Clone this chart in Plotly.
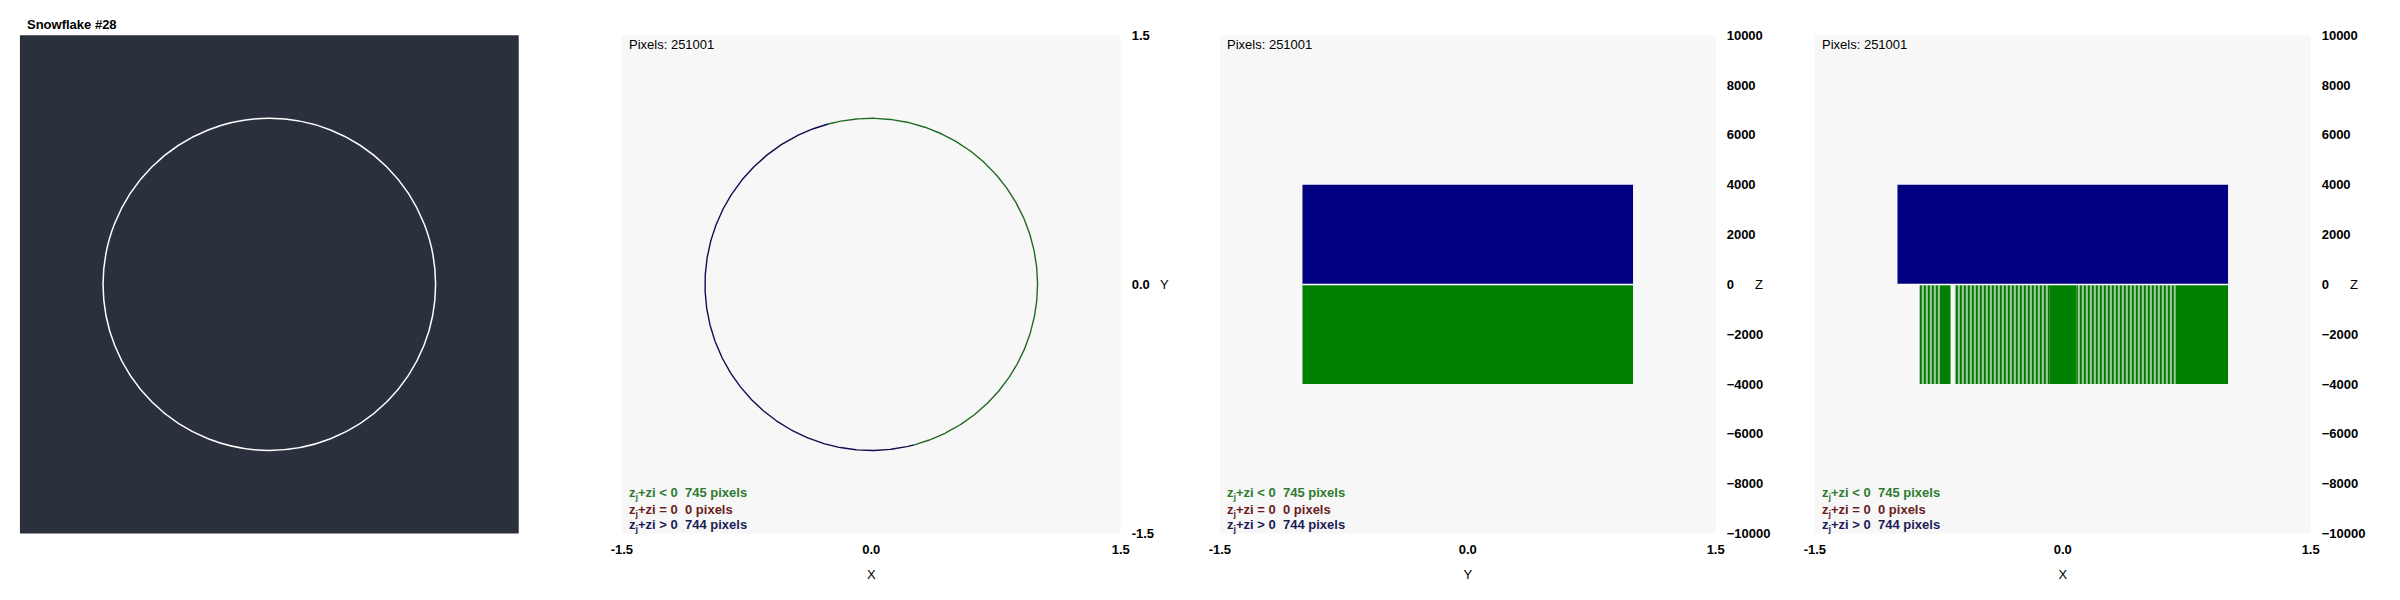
import numpy as np
import plotly.graph_objects as go

# ---------------- data ----------------
title_text = "Snowflake #28"
pixels_total = 251001
count_neg, count_zero, count_pos = 745, 0, 744

# circle (radius in data units) and the angular arcs of each sign class (degrees)
circle_radius = 1.0
arcs_green = [(-75, 105)]
arcs_navy = [(105, 285)]

# z-extent of each class (panels 3 & 4)
z_pos = 4000
z_neg = -4000
span_y = (-1.0, 1.0)          # extent along Y (panel 3)
span_x_pos = (-1.0, 1.0)      # blue extent along X (panel 4)
# green along X (panel 4): solid blocks and striped (sparse) ranges
green_solid_x = [(-0.737, -0.679), (-0.078, 0.084), (0.683, 1.0)]
green_striped_x = [(-0.868, -0.737), (-0.653, -0.078), (0.084, 0.683)]

xy_ticks = [-1.5, 0.0, 1.5]
xy_ticktext = ["-1.5", "0.0", "1.5"]
z_ticks = [-10000, -8000, -6000, -4000, -2000, 0, 2000, 4000, 6000, 8000, 10000]

# ---------------- layout helpers ----------------
W, H = 2400, 600
panel_left = [9, 616, 1219, 1819]
panel_width = [503, 503, 500, 500]
top_px, bot_px = 29, 540
ydom = [1 - bot_px / H, 1 - top_px / H]
FONT = "Liberation Sans, Arial, sans-serif"
GREEN_T, MAROON_T, NAVY_T = "#2f7a2f", "#6b1c1c", "#1c1c55"

fig = go.Figure()

# panel 2 circle arcs
for arcs, col in [(arcs_green, "#1f6b1f"), (arcs_navy, "#0d0d4f")]:
    for a0, a1 in arcs:
        th = np.radians(np.linspace(a0, a1, 400))
        fig.add_trace(go.Scatter(x=circle_radius * np.cos(th), y=circle_radius * np.sin(th),
                                 mode="lines", line=dict(color=col, width=1.4),
                                 xaxis="x2", yaxis="y2", hoverinfo="skip", showlegend=False))


def bar(lo, hi, z, color, xa, ya, pattern=None):
    mk = dict(color=color, line=dict(width=0))
    if pattern:
        mk["pattern"] = pattern
    fig.add_trace(go.Bar(x=[(lo + hi) / 2], width=[hi - lo], y=[z], base=0, marker=mk,
                         xaxis=xa, yaxis=ya, showlegend=False, hoverinfo="skip"))

# panel 3
bar(span_y[0], span_y[1], z_pos, "#000080", "x3", "y3")
bar(span_y[0], span_y[1], z_neg, "#008000", "x3", "y3")
# panel 4
bar(span_x_pos[0], span_x_pos[1], z_pos, "#000080", "x4", "y4")
stripe = dict(shape="|", fgcolor="#087808", bgcolor="#dcf1dc", size=4, solidity=0.65, fillmode="replace")
for lo, hi in green_striped_x:
    bar(lo, hi, z_neg, "#008000", "x4", "y4", pattern=stripe)
for lo, hi in green_solid_x:
    bar(lo, hi, z_neg, "#008000", "x4", "y4")

layout = dict(width=W, height=H, margin=dict(l=0, r=0, t=0, b=0),
              paper_bgcolor="white", plot_bgcolor="white", barmode="overlay",
              font=dict(family=FONT, size=13, color="black"), showlegend=False)

shapes = []
annotations = []
xtitles = [None, "X", "Y", "X"]
tickfont = dict(family=FONT, size=13, color="black", weight="bold")
for i in range(4):
    n = i + 1
    x0 = panel_left[i] / W
    x1 = (panel_left[i] + panel_width[i]) / W
    xa = dict(domain=[x0, x1], range=[-1.5, 1.5], anchor=f"y{n}", showgrid=False, zeroline=False,
              showline=False, ticks="", fixedrange=True)
    ya = dict(domain=ydom, anchor=f"x{n}", showgrid=False, zeroline=False, showline=False,
              ticks="", side="right", fixedrange=True)
    if i == 0:
        xa.update(visible=False)
        ya.update(visible=False, range=[-1.5, 1.5])
    else:
        xa.update(tickvals=xy_ticks, ticktext=xy_ticktext, tickfont=tickfont, ticklabelstandoff=6,
                  title=dict(text=xtitles[i], standoff=14, font=dict(family=FONT, size=13)))
        if i == 1:
            ya.update(range=[-1.5, 1.5], tickvals=xy_ticks, ticktext=xy_ticktext)
            axis_name = "Y"
        else:
            ya.update(range=[-10000, 10000], tickvals=z_ticks, tickformat="d")
            axis_name = "Z"
        ya.update(tickfont=tickfont, ticklabelstandoff=10)
        annotations.append(dict(text=axis_name, xref="paper", yref="paper",
                                x=(panel_left[i] + panel_width[i] + 38) / W, y=(ydom[0] + ydom[1]) / 2,
                                xanchor="left", yanchor="middle", showarrow=False,
                                font=dict(family=FONT, size=13, color="black")))
        annotations.append(dict(text=f"Pixels: {pixels_total}", xref="paper", yref="paper",
                                x=(panel_left[i] + 5) / W, y=1 - (top_px + 9) / H, xanchor="left",
                                yanchor="middle", showarrow=False,
                                font=dict(family=FONT, size=13, color="black")))
        rows = [(f"z<sub>j</sub>+zi &lt; 0&nbsp;&nbsp;{count_neg} pixels", GREEN_T, bot_px - 41),
                (f"z<sub>j</sub>+zi = 0&nbsp;&nbsp;{count_zero} pixels", MAROON_T, bot_px - 24),
                (f"z<sub>j</sub>+zi &gt; 0&nbsp;&nbsp;{count_pos} pixels", NAVY_T, bot_px - 8)]
        for txt, col, ypx in rows:
            annotations.append(dict(text=f"<b>{txt}</b>", xref="paper", yref="paper",
                                    x=(panel_left[i] + 5) / W, y=1 - ypx / H, xanchor="left",
                                    yanchor="middle", showarrow=False,
                                    font=dict(family=FONT, size=13, color=col)))
    layout[f"xaxis{n}" if n > 1 else "xaxis"] = xa
    layout[f"yaxis{n}" if n > 1 else "yaxis"] = ya
    xr = "x" if n == 1 else f"x{n}"
    yr = "y" if n == 1 else f"y{n}"
    shapes.append(dict(type="rect", xref=f"{xr} domain", yref=f"{yr} domain", x0=0, x1=1, y0=0, y1=1,
                       fillcolor="#2b313c" if i == 0 else "#f7f7f7", line=dict(width=0), layer="below"))

# white separator at z = 0 between classes (panels 3, 4)
for xr, yr, (lo, hi) in [("x3", "y3", span_y), ("x4", "y4", span_x_pos)]:
    shapes.append(dict(type="line", xref=xr, yref=yr, x0=lo, x1=hi, y0=0, y1=0,
                       line=dict(color="white", width=1.5), layer="above"))

# panel 1 white circle
shapes.append(dict(type="circle", xref="x", yref="y", x0=-circle_radius, x1=circle_radius,
                   y0=-circle_radius, y1=circle_radius, line=dict(color="white", width=1.5)))

annotations.append(dict(text=f"<b>{title_text}</b>", xref="paper", yref="paper",
                        x=(panel_left[0] + 5) / W, y=1 - (top_px - 11) / H,
                        xanchor="left", yanchor="middle", showarrow=False,
                        font=dict(family=FONT, size=13, color="black")))

layout["shapes"] = shapes
layout["annotations"] = annotations
fig.update_layout(**layout)
fig.write_html("out.html", config={"displayModeBar": False},
               post_script="document.body.style.margin='0';document.body.style.overflow='hidden';")
